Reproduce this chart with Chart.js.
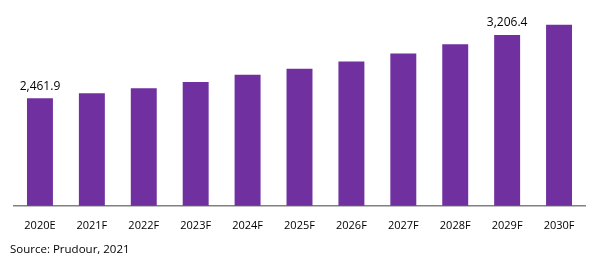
<html>
   <head>
      <script src="https://cdn.jsdelivr.net/npm/chart.js@4.4.0/dist/chart.umd.min.js"></script>
   </head>
   <style>
      html,
      body {
         margin: 0;
         background: #fff;
      }
      .wrapper {
         position: relative;
         width: 601px;
         height: 264px;
      }
      .source {
         position: absolute;
         left: 10px;
         top: 241px;
         font-family: "Open Sans", sans-serif;
         font-size: 11.5px;
         color: #000;
      }
   </style>
   <body>
      <div class="wrapper">
         <canvas id="myChart" width="601" height="264"></canvas>
         <div class="source">Source: Prudour, 2021</div>
      </div>
   </body>
   <script>
      const years = ["2020E", "2021F", "2022F", "2023F", "2024F", "2025F", "2026F", "2027F", "2028F", "2029F", "2030F"];
      const marketSize = [2461.9, 2522, 2582, 2654, 2738, 2810, 2894, 2990, 3098, 3206.4, 3326];
      // only these two bars carry a value label in the original
      const labelledBars = [0, 9];

      const valueLabels = {
         id: "valueLabels",
         afterDatasetsDraw(chart) {
            const ctx = chart.ctx;
            const meta = chart.getDatasetMeta(0);
            ctx.save();
            ctx.font = "12px 'Open Sans', sans-serif";
            ctx.fillStyle = "#000";
            ctx.textAlign = "center";
            ctx.textBaseline = "bottom";
            labelledBars.forEach((i) => {
               const bar = meta.data[i];
               const txt = marketSize[i].toLocaleString("en-US", { minimumFractionDigits: 1, maximumFractionDigits: 1 });
               ctx.fillText(txt, bar.x, bar.y - 6);
            });
            ctx.restore();
         },
      };

      const config = {
         type: "bar",
         data: {
            labels: years,
            datasets: [
               {
                  data: marketSize,
                  backgroundColor: "#7030A0",
                  barPercentage: 0.5,
                  categoryPercentage: 1,
               },
            ],
         },
         options: {
            responsive: false,
            animation: false,
            layout: {
               padding: { top: 10, left: 14, right: 16, bottom: 27 },
            },
            plugins: {
               legend: { display: false },
               tooltip: { enabled: false },
            },
            scales: {
               x: {
                  grid: { display: false },
                  border: { display: true, color: "#808080", width: 1.5 },
                  ticks: {
                     color: "#000",
                     padding: 5,
                     font: { family: "'Open Sans', sans-serif", size: 11 },
                  },
               },
               y: {
                  display: false,
                  min: 1200,
                  max: 3500,
               },
            },
         },
         plugins: [valueLabels],
      };

      new Chart(document.getElementById("myChart"), config);
   </script>
</html>
